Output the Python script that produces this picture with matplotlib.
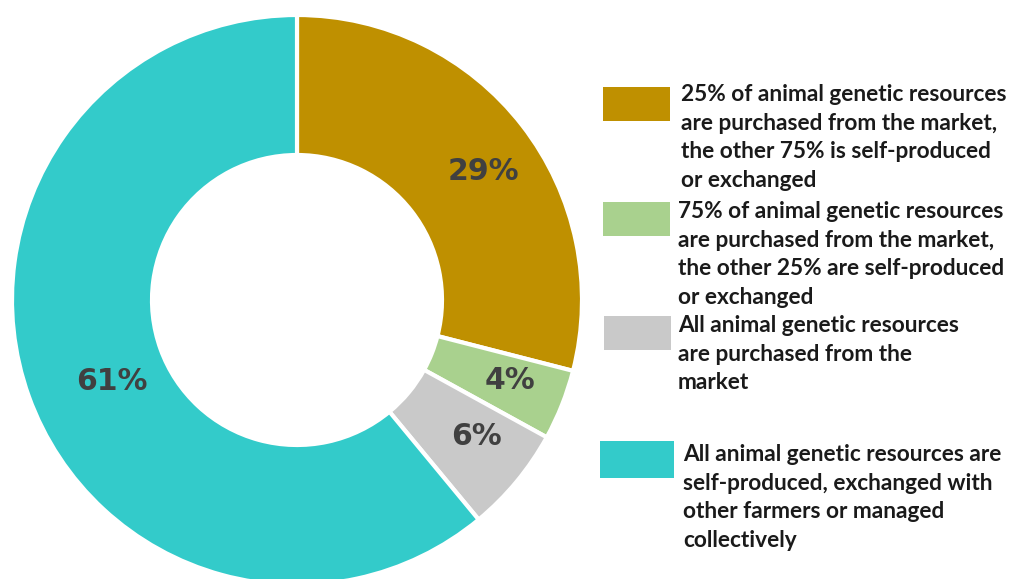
import numpy as np
import matplotlib
matplotlib.use("Agg")
import matplotlib.pyplot as plt
from matplotlib.patches import Rectangle

# Shares of farms by how animal genetic resources are obtained
categories = [
    "25% of animal genetic resources\nare purchased from the market,\nthe other 75% is self-produced\nor exchanged",
    "75% of animal genetic resources\nare purchased from the market,\nthe other 25% are self-produced\nor exchanged",
    "All animal genetic resources\nare purchased from the\nmarket",
    "All animal genetic resources are\nself-produced, exchanged with\nother farmers or managed\ncollectively",
]
shares = [29, 4, 6, 61]
pct_labels = ["29%", "4%", "6%", "61%"]
colors = ["#BF9000", "#A9D18E", "#C9C9C9", "#33CBCA"]

W, H = 1010, 579
fig = plt.figure(figsize=(W / 100, H / 100), dpi=100)
ax = fig.add_axes([0, 0, 1, 1])

cx, cy, R, ring = 297, H - 300, 285, 140
wedges, _ = ax.pie(
    shares, colors=colors, startangle=90, counterclock=False,
    center=(cx, cy), radius=R, frame=True,
    wedgeprops=dict(width=ring, edgecolor="white", linewidth=3),
)
ax.set_xlim(0, W)
ax.set_ylim(0, H)
ax.set_aspect("equal")
ax.axis("off")

# percentage labels: radius and small angular nudge from each wedge's mid-angle
label_radius = [226, 228, 226, 202]
label_nudge = [-3.3, 1.0, 2.3, 4.0]
for w, txt, r, d in zip(wedges, pct_labels, label_radius, label_nudge):
    ang = np.deg2rad((w.theta1 + w.theta2) / 2 + d)
    ax.text(cx + r * np.cos(ang), cy + r * np.sin(ang), txt,
            ha="center", va="center", fontsize=21.5, fontweight="bold",
            color="#404040", family="DejaVu Sans")

# legend swatches and text
boxes = [(603, 87, 670, 121), (603, 202, 670, 236), (604, 316, 671, 350), (600, 441, 674, 478)]
text_pos = [(681, 84), (678, 201), (678, 315), (683, 444)]
for (x0, y0, x1, y1), (tx, ty), col, lab in zip(boxes, text_pos, colors, categories):
    ax.add_patch(Rectangle((x0, H - y1), x1 - x0, y1 - y0, facecolor=col, edgecolor="none"))
    ax.text(tx, H - ty, lab, ha="left", va="top", fontsize=16.3, family="Lato",
            fontweight="bold", color="#1a1a1a", linespacing=1.45)

fig.savefig("out.png", dpi=100)
